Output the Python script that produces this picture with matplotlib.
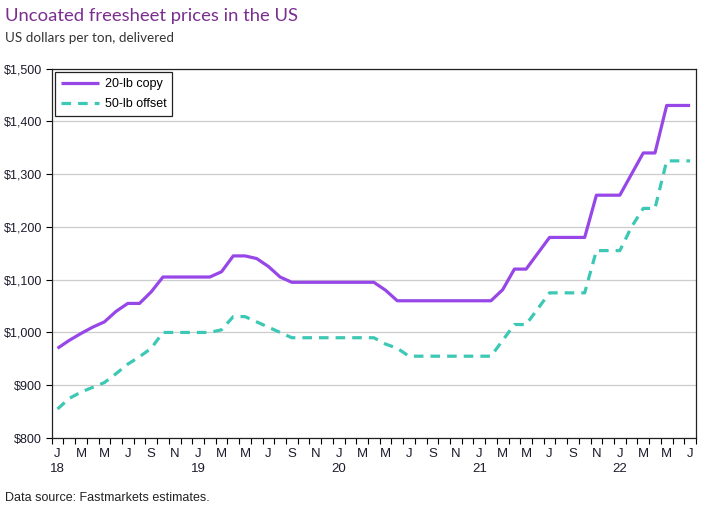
import numpy as np
import matplotlib.pyplot as plt

# Monthly prices, Jan 2018 - Jul 2022 (US$/ton, delivered)
months = [f"{y}-{m:02d}" for y in range(2018, 2023) for m in range(1, 13)][:55]
copy_20lb = [970, 985, 998, 1010, 1020, 1040, 1055, 1055, 1077, 1105, 1105, 1105,
             1105, 1105, 1115, 1145, 1145, 1140, 1125, 1105, 1095, 1095, 1095, 1095,
             1095, 1095, 1095, 1095, 1080, 1060, 1060, 1060, 1060, 1060, 1060, 1060,
             1060, 1060, 1081, 1120, 1120, 1150, 1180, 1180, 1180, 1180, 1260, 1260,
             1260, 1300, 1340, 1340, 1430, 1430, 1430]
offset_50lb = [855, 875, 887, 896, 905, 922, 940, 954, 970, 1000, 1000, 1000,
               1000, 1000, 1005, 1030, 1030, 1020, 1010, 1000, 990, 990, 990, 990,
               990, 990, 990, 990, 978, 970, 955, 955, 955, 955, 955, 955,
               955, 955, 985, 1015, 1015, 1045, 1075, 1075, 1075, 1075, 1155, 1155,
               1155, 1200, 1235, 1235, 1325, 1325, 1325]
month_letters = ['J', 'F', 'M', 'A', 'M', 'J', 'J', 'A', 'S', 'O', 'N', 'D']
y_ticks = [800, 900, 1000, 1100, 1200, 1300, 1400, 1500]

plt.rcParams['font.family'] = ['Liberation Sans', 'DejaVu Sans']

fig = plt.figure(figsize=(7.04, 5.12), dpi=100)
ax = fig.add_axes([0.0734, 0.1445, 0.9152, 0.7217])

x = np.arange(len(months)) + 0.5
ax.plot(x, copy_20lb, color='#9747E8', lw=2.3, label='20-lb copy', solid_capstyle='butt')
ax.plot(x, offset_50lb, color='#3CC8B4', lw=2.3, ls=(0, (3, 2.2)), label='50-lb offset')

ax.set_xlim(0, len(months))
ax.set_ylim(800, 1500)
ax.set_yticks(y_ticks)
ax.set_yticklabels([f"${v:,}" for v in y_ticks], fontsize=9, color='#1c1c2c')
ax.grid(axis='y', color='#cccccc', lw=0.9)
ax.set_axisbelow(True)

# month labels at centres, ticks at month boundaries
lab_pos, lab_txt = [], []
for i, m in enumerate(months):
    yr, mo = int(m[:4]), int(m[5:])
    if (mo - 1) % 2 == 0:
        lab_pos.append(i + 0.5)
        t = month_letters[mo - 1]
        if mo == 1:
            t += "\n" + str(yr)[2:]
        lab_txt.append(t)
ax.set_xticks(lab_pos)
ax.set_xticklabels(lab_txt, fontsize=9.5, color='#1c1c2c', linespacing=1.35, va='top')
ax.tick_params(axis='x', which='major', length=0, pad=7)
ax.set_xticks(np.arange(len(months) + 1), minor=True)
ax.tick_params(axis='x', which='minor', length=4, direction='out', width=0.8)
ax.tick_params(axis='y', length=4, width=0.8, pad=3)
for s in ax.spines.values():
    s.set_color('#222222')
    s.set_linewidth(0.9)

leg = ax.legend(loc='upper left', bbox_to_anchor=(0.0, 1.0), borderaxespad=0.3,
                fontsize=9, fancybox=False, edgecolor='#222222', framealpha=1,
                handlelength=3.0, handletextpad=0.5, borderpad=0.45, labelspacing=0.65)
leg.get_frame().set_linewidth(0.9)

fig.text(0.007, 0.968, 'Uncoated freesheet prices in the US', fontsize=13.3,
         color='#7a2e8e', family='Lato', va='center')
fig.text(0.007, 0.925, 'US dollars per ton, delivered', fontsize=9.7,
         color='#333333', family='Lato', va='center')
fig.text(0.007, 0.027, 'Data source: Fastmarkets estimates.', fontsize=9,
         color='#222222', va='center')

fig.savefig('out.png', dpi=100)
